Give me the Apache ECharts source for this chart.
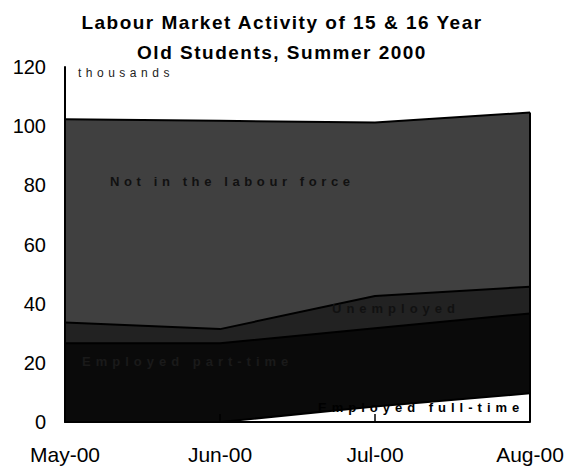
<!DOCTYPE html>
<html>
<head>
<meta charset="utf-8">
<script src="https://cdn.jsdelivr.net/npm/echarts@6/dist/echarts.min.js"></script>
<style>
  html, body { margin: 0; padding: 0; background: #fff; }
  #chart { width: 575px; height: 467px; }
  svg text[style*="13.01px"], svg text[font-size*="13.01"] { letter-spacing: 5px; }
  svg text[style*="13.02px"], svg text[font-size*="13.02"] { letter-spacing: 4.6px; }
  svg text[style*="12.01px"], svg text[font-size*="12.01"] { letter-spacing: 4.5px; }
  svg text[style*="19.01px"], svg text[font-size*="19.01"] { letter-spacing: 1.5px; }
</style>
</head>
<body>
<div id="chart"></div>
<script>
var categories = ['May-00', 'Jun-00', 'Jul-00', 'Aug-00'];
var employedFullTime = [0, 0, 5.2, 9.7];
var employedPartTime = [26.6, 26.6, 26.5, 27.0];
var unemployed = [7.0, 4.8, 10.9, 9.0];
var notInLabourForce = [68.7, 70.4, 58.6, 58.9];
var yTicks = [0, 20, 40, 60, 80, 100, 120];

var titleLines = ['Labour Market Activity of 15 & 16 Year', 'Old Students, Summer 2000'];
var seriesNames = ['Employed full-time', 'Employed part-time', 'Unemployed', 'Not in the labour force'];

var lastIdx = categories.length - 1;
var total = employedFullTime[lastIdx] + employedPartTime[lastIdx] + unemployed[lastIdx] + notInLabourForce[lastIdx];

var chart = echarts.init(document.getElementById('chart'), null, { renderer: 'svg' });

function areaSeries(name, data, color, extra) {
  var s = {
    name: name,
    type: 'line',
    stack: 'total',
    data: data,
    symbol: 'none',
    lineStyle: { color: '#000', width: 2 },
    areaStyle: { color: color, opacity: 1 },
    emphasis: { disabled: true },
    silent: true,
    z: 2
  };
  if (extra) { for (var k in extra) s[k] = extra[k]; }
  return s;
}

chart.setOption({
  animation: false,
  backgroundColor: '#fff',
  grid: { left: 65, right: 45, top: 67, bottom: 45, containLabel: false },
  xAxis: {
    type: 'category',
    data: categories,
    boundaryGap: false,
    z: 10,
    axisLine: { show: true, lineStyle: { color: '#000', width: 2 } },
    axisTick: { show: true, inside: true, length: 8, lineStyle: { color: '#000', width: 1.5 } },
    axisLabel: { color: '#000', fontSize: 21, fontFamily: 'Arial', margin: 22 },
    splitLine: { show: false }
  },
  yAxis: {
    type: 'value',
    min: yTicks[0],
    max: yTicks[yTicks.length - 1],
    interval: yTicks[1] - yTicks[0],
    z: 10,
    axisLine: { show: true, lineStyle: { color: '#000', width: 2 } },
    axisTick: { show: false },
    axisLabel: { color: '#000', fontSize: 20, fontFamily: 'Arial', margin: 19 },
    splitLine: { show: false }
  },
  series: [
    areaSeries(seriesNames[0], employedFullTime, '#ffffff'),
    areaSeries(seriesNames[1], employedPartTime, '#0a0a0a'),
    areaSeries(seriesNames[2], unemployed, '#222222'),
    areaSeries(seriesNames[3], notInLabourForce, '#404040', {
      markLine: {
        silent: true,
        symbol: 'none',
        label: { show: false },
        lineStyle: { color: '#000', width: 2, type: 'solid' },
        data: [[
          { coord: [categories[lastIdx], 0] },
          { coord: [categories[lastIdx], total] }
        ]]
      }
    })
  ],
  graphic: [
    { type: 'text', x: 282, y: 22, z: 100, silent: true,
      style: { text: titleLines[0], font: 'bold 19.01px Arial', fill: '#000', align: 'center', verticalAlign: 'middle' } },
    { type: 'text', x: 282, y: 52, z: 100, silent: true,
      style: { text: titleLines[1], font: 'bold 19.01px Arial', fill: '#000', align: 'center', verticalAlign: 'middle' } },
    { type: 'text', x: 78, y: 73, z: 100, silent: true,
      style: { text: 'thousands', font: '12.01px Arial', fill: '#222', align: 'left', verticalAlign: 'middle' } },
    { type: 'text', x: 110, y: 181, z: 100, silent: true,
      style: { text: seriesNames[3], font: 'bold 13.02px Arial', fill: '#111', align: 'left', verticalAlign: 'middle' } },
    { type: 'text', x: 332, y: 308, z: 100, silent: true,
      style: { text: seriesNames[2], font: 'bold 13.01px Arial', fill: '#111', align: 'left', verticalAlign: 'middle' } },
    { type: 'text', x: 82, y: 361, z: 100, silent: true,
      style: { text: seriesNames[1], font: 'bold 13.01px Arial', fill: '#1a1a1a', align: 'left', verticalAlign: 'middle' } },
    { type: 'text', x: 318, y: 407, z: 100, silent: true,
      style: { text: seriesNames[0], font: 'bold 13.01px Arial', fill: '#000', align: 'left', verticalAlign: 'middle' } }
  ]
});
</script>
</body>
</html>
